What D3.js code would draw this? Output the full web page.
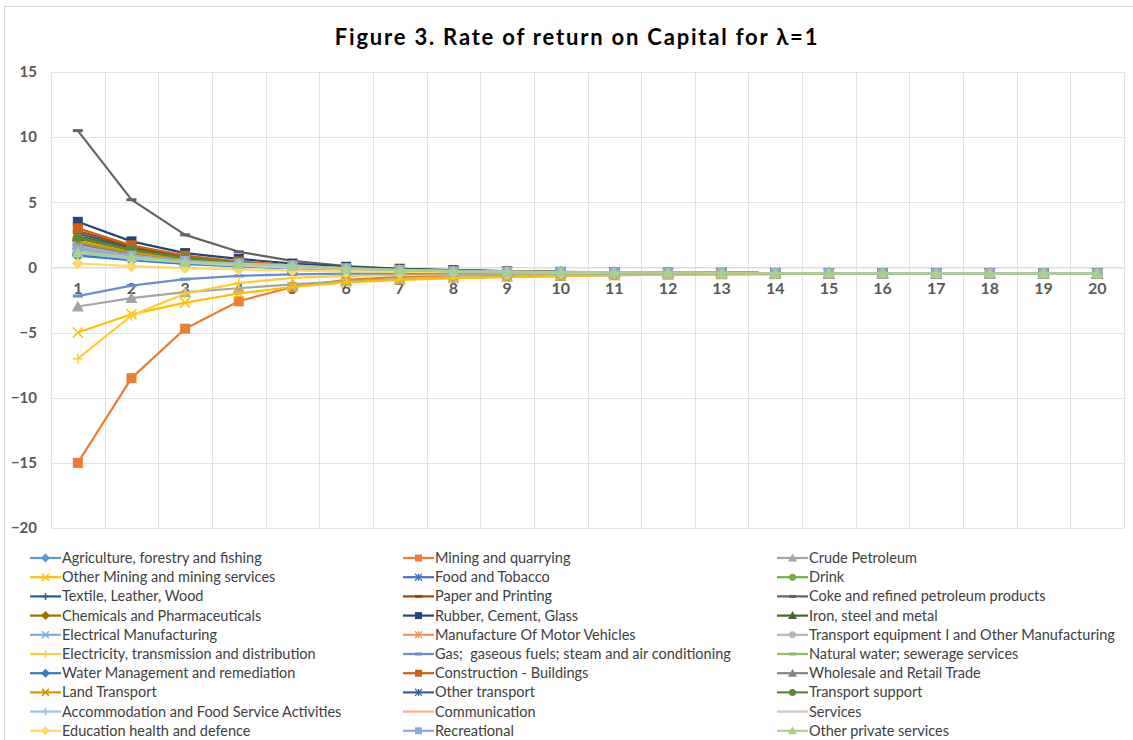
<!doctype html>
<html>
<head>
  <meta charset="utf-8">
  <script src="https://d3js.org/d3.v7.min.js"></script>
</head>
<style>
  body {
    margin: 0;
    background: #fff;
  }

  svg text {
    font-family: Lato, "Liberation Sans", sans-serif;
    white-space: pre;
  }
</style>
<body>
<svg></svg>

<script>
  const categories = d3.range(1, 21).map(String);
  const yTicks = [-20, -15, -10, -5, 0, 5, 10, 15];

  const seriesNames = [
    "Agriculture, forestry and fishing", "Mining and quarrying", "Crude Petroleum",
    "Other Mining and mining services", "Food and Tobacco", "Drink",
    "Textile, Leather, Wood", "Paper and Printing", "Coke and refined petroleum products",
    "Chemicals and Pharmaceuticals", "Rubber, Cement, Glass", "Iron, steel and metal",
    "Electrical Manufacturing", "Manufacture Of Motor Vehicles", "Transport equipment I and Other Manufacturing",
    "Electricity, transmission and distribution", "Gas;  gaseous fuels; steam and air conditioning", "Natural water; sewerage services",
    "Water Management and remediation", "Construction - Buildings", "Wholesale and Retail Trade",
    "Land Transport", "Other transport", "Transport support",
    "Accommodation and Food Service Activities", "Communication", "Services",
    "Education health and defence", "Recreational", "Other private services"
  ];

  const seriesValues = [
    [1.0, 0.6, 0.3, 0.1, -0.05, -0.15, -0.22, -0.28, -0.32, -0.36, -0.39, -0.41, -0.42, -0.43, -0.44, -0.45, -0.45, -0.45, -0.45, -0.45],
    [-15.0, -8.5, -4.7, -2.6, -1.5, -0.95, -0.72, -0.62, -0.58, -0.55, -0.52, -0.5, -0.49, -0.48, -0.47, -0.46, -0.45, -0.45, -0.45, -0.45],
    [-3.0, -2.35, -1.9, -1.6, -1.3, -1.05, -0.9, -0.8, -0.72, -0.66, -0.6, -0.56, -0.53, -0.5, -0.48, -0.47, -0.46, -0.45, -0.45, -0.45],
    [-5.0, -3.6, -2.7, -2.0, -1.5, -1.15, -0.95, -0.82, -0.72, -0.65, -0.6, -0.56, -0.53, -0.5, -0.48, -0.47, -0.46, -0.45, -0.45, -0.45],
    [1.5, 0.9, 0.48, 0.2, 0.02, -0.11, -0.21, -0.28, -0.33, -0.36, -0.39, -0.41, -0.42, -0.43, -0.44, -0.45, -0.45, -0.45, -0.45, -0.45],
    [1.9, 1.1, 0.6, 0.28, 0.07, -0.08, -0.19, -0.27, -0.32, -0.36, -0.39, -0.41, -0.42, -0.43, -0.44, -0.45, -0.45, -0.45, -0.45, -0.45],
    [2.6, 1.5, 0.8, 0.4, 0.12, -0.05, -0.17, -0.25, -0.31, -0.35, -0.38, -0.4, -0.42, -0.43, -0.44, -0.45, -0.45, -0.45, -0.45, -0.45],
    [2.8, 1.6, 0.85, 0.42, 0.14, -0.04, -0.16, -0.24, -0.3, -0.35, -0.38, -0.4, -0.42, -0.43, -0.44, -0.45, -0.45, -0.45, -0.45, -0.45],
    [10.5, 5.2, 2.5, 1.2, 0.5, 0.1, -0.1, -0.22, -0.3, -0.35, -0.38, -0.4, -0.42, -0.43, -0.44, -0.45, -0.45, -0.45, -0.45, -0.45],
    [2.2, 1.3, 0.7, 0.33, 0.1, -0.06, -0.18, -0.26, -0.31, -0.35, -0.38, -0.4, -0.42, -0.43, -0.44, -0.45, -0.45, -0.45, -0.45, -0.45],
    [3.5, 2.0, 1.1, 0.65, 0.3, 0.05, -0.1, -0.2, -0.28, -0.34, -0.38, -0.4, -0.42, -0.43, -0.44, -0.45, -0.45, -0.45, -0.45, -0.45],
    [2.4, 1.4, 0.75, 0.36, 0.11, -0.05, -0.17, -0.25, -0.31, -0.35, -0.38, -0.4, -0.42, -0.43, -0.44, -0.45, -0.45, -0.45, -0.45, -0.45],
    [1.6, 0.95, 0.5, 0.22, 0.03, -0.1, -0.2, -0.28, -0.33, -0.36, -0.39, -0.41, -0.42, -0.43, -0.44, -0.45, -0.45, -0.45, -0.45, -0.45],
    [1.3, 0.8, 0.42, 0.17, 0.0, -0.12, -0.22, -0.29, -0.34, -0.37, -0.39, -0.41, -0.42, -0.43, -0.44, -0.45, -0.45, -0.45, -0.45, -0.45],
    [1.7, 1.0, 0.55, 0.25, 0.05, -0.09, -0.2, -0.27, -0.32, -0.36, -0.39, -0.41, -0.42, -0.43, -0.44, -0.45, -0.45, -0.45, -0.45, -0.45],
    [-7.0, -3.7, -2.0, -1.2, -0.8, -0.65, -0.58, -0.54, -0.52, -0.5, -0.49, -0.48, -0.47, -0.46, -0.46, -0.45, -0.45, -0.45, -0.45, -0.45],
    [-2.2, -1.4, -0.9, -0.65, -0.53, -0.48, -0.46, -0.45, -0.45, -0.45, -0.45, -0.45, -0.45, -0.45, -0.45, -0.45, -0.45, -0.45, -0.45, -0.45],
    [1.2, 0.75, 0.4, 0.15, -0.01, -0.13, -0.22, -0.29, -0.34, -0.37, -0.39, -0.41, -0.42, -0.43, -0.44, -0.45, -0.45, -0.45, -0.45, -0.45],
    [0.9, 0.55, 0.28, 0.08, -0.06, -0.16, -0.24, -0.3, -0.35, -0.38, -0.4, -0.41, -0.42, -0.43, -0.44, -0.45, -0.45, -0.45, -0.45, -0.45],
    [3.0, 1.7, 0.9, 0.45, 0.15, -0.05, -0.18, -0.26, -0.32, -0.36, -0.38, -0.4, -0.42, -0.43, -0.44, -0.45, -0.45, -0.45, -0.45, -0.45],
    [1.8, 1.05, 0.57, 0.26, 0.06, -0.08, -0.19, -0.27, -0.32, -0.36, -0.39, -0.41, -0.42, -0.43, -0.44, -0.45, -0.45, -0.45, -0.45, -0.45],
    [2.0, 1.15, 0.62, 0.3, 0.08, -0.07, -0.18, -0.26, -0.31, -0.35, -0.38, -0.4, -0.42, -0.43, -0.44, -0.45, -0.45, -0.45, -0.45, -0.45],
    [1.4, 0.85, 0.45, 0.19, 0.01, -0.11, -0.21, -0.28, -0.33, -0.36, -0.39, -0.41, -0.42, -0.43, -0.44, -0.45, -0.45, -0.45, -0.45, -0.45],
    [2.3, 1.35, 0.72, 0.35, 0.1, -0.06, -0.17, -0.25, -0.31, -0.35, -0.38, -0.4, -0.42, -0.43, -0.44, -0.45, -0.45, -0.45, -0.45, -0.45],
    [1.1, 0.68, 0.36, 0.13, -0.03, -0.14, -0.23, -0.29, -0.34, -0.37, -0.39, -0.41, -0.42, -0.43, -0.44, -0.45, -0.45, -0.45, -0.45, -0.45],
    [1.45, 0.88, 0.46, 0.19, 0.01, -0.12, -0.21, -0.28, -0.33, -0.36, -0.39, -0.41, -0.42, -0.43, -0.44, -0.45, -0.45, -0.45, -0.45, -0.45],
    [1.25, 0.78, 0.41, 0.16, 0.0, -0.12, -0.22, -0.29, -0.34, -0.37, -0.39, -0.41, -0.42, -0.43, -0.44, -0.45, -0.45, -0.45, -0.45, -0.45],
    [0.3, 0.1, -0.05, -0.15, -0.24, -0.3, -0.34, -0.37, -0.39, -0.41, -0.42, -0.43, -0.44, -0.44, -0.45, -0.45, -0.45, -0.45, -0.45, -0.45],
    [1.4, 0.9, 0.5, 0.3, 0.15, -0.08, -0.2, -0.3, -0.33, -0.35, -0.38, -0.4, -0.42, -0.43, -0.44, -0.45, -0.45, -0.45, -0.45, -0.45],
    [1.15, 0.8, 0.4, 0.28, 0.15, -0.08, -0.2, -0.3, -0.33, -0.35, -0.38, -0.4, -0.42, -0.43, -0.44, -0.45, -0.45, -0.45, -0.45, -0.45]
  ];

  // excel style palette and marker cycle
  const colors = [
    "#5B9BD5", "#ED7D31", "#A5A5A5", "#FFC000", "#4472C4", "#70AD47",
    "#255E91", "#9E480E", "#636363", "#997300", "#264478", "#43682B",
    "#7CAFDD", "#F1975A", "#B7B7B7", "#FFCD33", "#698ED0", "#8CC168",
    "#327DC2", "#D26012", "#848484", "#CC9A00", "#3A5FA0", "#5A8A39",
    "#9DC3E6", "#F4B183", "#C9C9C9", "#FFD966", "#8FAADC", "#A9D18E"
  ];
  const markerCycle = ["diamond", "square", "triangle", "x", "star", "circle", "plus", "dash", "dash"];

  const width = 1133, height = 740;
  const svg = d3.select("svg")
    .attr("width", width)
    .attr("height", height);

  const xScale = d3.scaleBand()
    .domain(categories)
    .range([51, 1124])
    .padding(0);
  const yScale = d3.scaleLinear()
    .domain([-20, 15])
    .range([528, 72]);

  // chart frame
  svg.append("rect")
    .attr("x", 4.5).attr("y", 6.5)
    .attr("width", width + 20).attr("height", height + 20)
    .attr("fill", "none")
    .attr("stroke", "#D9D9D9");

  svg.append("text")
    .attr("x", 577)
    .attr("y", 45)
    .attr("text-anchor", "middle")
    .attr("font-size", 22)
    .attr("font-weight", "bold")
    .attr("letter-spacing", 1.8)
    .attr("fill", "#000")
    .text("Figure 3. Rate of return on Capital for λ=1");

  // gridlines
  const grid = svg.append("g");
  grid.selectAll(".hgrid")
    .data(yTicks)
    .enter().append("line")
    .attr("x1", xScale.range()[0])
    .attr("x2", xScale.range()[1])
    .attr("y1", d => Math.round(yScale(d)) + 0.5)
    .attr("y2", d => Math.round(yScale(d)) + 0.5)
    .attr("stroke", "#E3E3E3");
  const edges = categories.map(c => xScale(c)).concat([xScale.range()[1]]);
  grid.selectAll(".vgrid")
    .data(edges)
    .enter().append("line")
    .attr("x1", d => Math.round(d) + 0.5)
    .attr("x2", d => Math.round(d) + 0.5)
    .attr("y1", yScale(15))
    .attr("y2", yScale(-20))
    .attr("stroke", "#E3E3E3");

  // y axis labels
  const yAxis = d3.axisLeft(yScale).tickValues(yTicks).tickSize(0).tickPadding(8);
  const yg = svg.append("g")
    .attr("transform", "translate(45,0)")
    .call(yAxis);
  yg.select(".domain").remove();
  yg.selectAll("text")
    .attr("font-size", 15)
    .attr("font-weight", "bold")
    .attr("fill", "#595959")
    .style("font-family", "Lato, sans-serif");

  // x axis at zero
  const xAxis = d3.axisBottom(xScale).tickSize(0).tickPadding(15);
  const xg = svg.append("g")
    .attr("transform", `translate(0,${yScale(0)})`)
    .call(xAxis);
  xg.select(".domain").attr("stroke", "#D9D9D9");
  xg.selectAll("text")
    .attr("font-size", 16)
    .attr("font-weight", "bold")
    .attr("fill", "#595959")
    .style("font-family", "Lato, sans-serif");

  function drawMarker(g, type, color, s) {
    const h = s / 2;
    if (type === "diamond") {
      g.append("path").attr("d", `M0,${-h - 1}L${h + 1},0L0,${h + 1}L${-h - 1},0Z`).attr("fill", color);
    } else if (type === "square") {
      g.append("rect").attr("x", -h).attr("y", -h).attr("width", s).attr("height", s).attr("fill", color);
    } else if (type === "triangle") {
      g.append("path").attr("d", `M0,${-h - 1}L${h + 1},${h}L${-h - 1},${h}Z`).attr("fill", color);
    } else if (type === "circle") {
      g.append("circle").attr("r", h).attr("fill", color);
    } else if (type === "x") {
      g.append("path").attr("d", `M${-h},${-h}L${h},${h}M${-h},${h}L${h},${-h}`)
        .attr("stroke", color).attr("stroke-width", 1.5);
    } else if (type === "star") {
      g.append("path").attr("d", `M${-h},${-h}L${h},${h}M${-h},${h}L${h},${-h}M0,${-h}L0,${h}`)
        .attr("stroke", color).attr("stroke-width", 1.3);
    } else if (type === "plus") {
      g.append("path").attr("d", `M${-h},0L${h},0M0,${-h}L0,${h}`)
        .attr("stroke", color).attr("stroke-width", 1.5);
    } else if (type === "dash") {
      g.append("path").attr("d", `M${-h},0L${h},0`)
        .attr("stroke", color).attr("stroke-width", 3);
    }
  }

  const line = d3.line()
    .x((d, i) => xScale(categories[i]) + xScale.bandwidth() / 2)
    .y(d => yScale(d));

  const plot = svg.append("g");
  seriesValues.forEach(function (vals, k) {
    const color = colors[k];
    const marker = markerCycle[k % markerCycle.length];
    const sg = plot.append("g");
    sg.append("path")
      .datum(vals)
      .attr("d", line)
      .attr("fill", "none")
      .attr("stroke", color)
      .attr("stroke-width", 2.2)
      .attr("stroke-linejoin", "round");
    if (k === 25 || k === 26) return;
    vals.forEach(function (v, i) {
      const mg = sg.append("g")
        .attr("transform", `translate(${xScale(categories[i]) + xScale.bandwidth() / 2},${yScale(v)})`);
      drawMarker(mg, marker, color, 10);
    });
  });

  // legend, three columns
  const legendX = [30, 403, 777];
  const legend = svg.append("g");
  seriesNames.forEach(function (name, k) {
    const col = k % 3, row = Math.floor(k / 3);
    const y = 558 + row * 19.2;
    const lg = legend.append("g").attr("transform", `translate(${legendX[col]},${y})`);
    lg.append("line")
      .attr("x1", 0).attr("x2", 31)
      .attr("stroke", colors[k])
      .attr("stroke-width", 2.2);
    if (k !== 25 && k !== 26) {
      const mg = lg.append("g").attr("transform", "translate(15.5,0)");
      drawMarker(mg, markerCycle[k % markerCycle.length], colors[k], 7);
    }
    lg.append("text")
      .attr("x", 32)
      .attr("y", 0)
      .attr("dy", "0.35em")
      .attr("font-size", 14.5)
      .attr("fill", "#404040")
      .text(name);
  });
</script>
</body>
</html>
